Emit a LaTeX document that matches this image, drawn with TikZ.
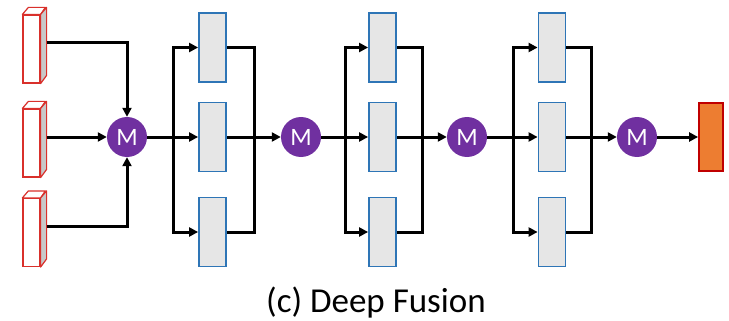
\documentclass[tikz,border=0pt]{standalone}
\usepackage{fontspec}
\setmainfont{Carlito}
\usepackage{tikz}
\usetikzlibrary{arrows.meta}
\tikzset{>={Triangle[width=9pt,length=9pt]}}
\definecolor{fusepurple}{HTML}{7030A0}
\definecolor{layerblue}{HTML}{2E75B6}
\definecolor{layergrey}{HTML}{E6E6E6}
\definecolor{featred}{HTML}{D9302B}
\definecolor{sidegrey}{HTML}{C8C8C8}
\definecolor{outorange}{HTML}{ED7D31}
\definecolor{outred}{HTML}{C00000}

\tikzset{
  feat/.style={draw=featred, fill=white, line width=1.2pt, inner sep=0pt,
    minimum width=17pt, minimum height=68pt},
  layer/.style={draw=layerblue, fill=layergrey, line width=1.8pt, inner sep=0pt,
    minimum width=27pt, minimum height=69pt},
  fuse/.style={circle, fill=fusepurple, text=white, inner sep=0pt,
    minimum size=40pt, font=\fontsize{25}{25}\selectfont},
  outbox/.style={draw=outred, fill=outorange, line width=1.8pt, inner sep=0pt,
    minimum width=24pt, minimum height=68pt},
  flow/.style={line width=3pt},
}

\begin{document}
\begin{tikzpicture}[x=1pt, y=-1pt]
\useasboundingbox (0,0) rectangle (729,321);

% depth faces of an input feature block
\newcommand\featdepth[1]{
  \draw[draw=featred, fill=white, line width=1.2pt, line join=round]
    (#1.north west) -- ++(6pt,7pt) -- ++(17pt,0pt) -- (#1.north east) -- cycle;
  \draw[draw=featred, fill=sidegrey, line width=1.2pt, line join=round]
    (#1.north east) -- ++(6pt,7pt) -- ++(0pt,-68pt) -- (#1.south east) -- cycle;
}

% input features
\node[feat] (in1) at (31.5, 49) {};
\node[feat] (in2) at (31.5, 143) {};
\node[feat] (in3) at (31.5, 232.5) {};
\featdepth{in1}
\featdepth{in2}
\featdepth{in3}

% merge nodes
\node[fuse] (m1) at (127, 137) {M};
\node[fuse] (m2) at (301, 137) {M};
\node[fuse] (m3) at (467, 137) {M};
\node[fuse] (m4) at (637, 137) {M};

\draw[flow,->] ([shift={(6pt,6pt)}]in1.east) -| (m1);
\draw[flow,->] ([shift={(6pt,6pt)}]in2.east) -- (m1);
\draw[flow,->] ([shift={(6pt,6pt)}]in3.east) -| (m1);

% three parallel layers between two merges
\foreach \g/\bx/\sx/\jx/\p/\n in {1/212.5/173/254/1/2,
                                  2/382.5/345/422/2/3,
                                  3/552/513/591/3/4} {
  \node[layer] (b\g1) at (\bx, 47.5) {};
  \node[layer] (b\g2) at (\bx, 137) {};
  \node[layer] (b\g3) at (\bx, 232) {};
  \coordinate (s\g) at (\sx, 137);
  \coordinate (j\g) at (\jx, 137);

  \draw[flow,->] (m\p) -- (b\g2);
  \draw[flow,->] (b\g2) -- (m\n);
  \draw[flow,->] (s\g) |- (b\g1);
  \draw[flow,->] (s\g) |- (b\g3);
  \draw[flow] (b\g1) -| (j\g);
  \draw[flow] (b\g3) -| (j\g);
}

% output
\node[outbox] (out) at (711, 137) {};
\draw[flow,->] (m4) -- (out);

\node[anchor=base, font=\fontsize{35}{40}\selectfont] (cap) at (376, 312)
  {(c) Deep Fusion};
\end{tikzpicture}
\end{document}
